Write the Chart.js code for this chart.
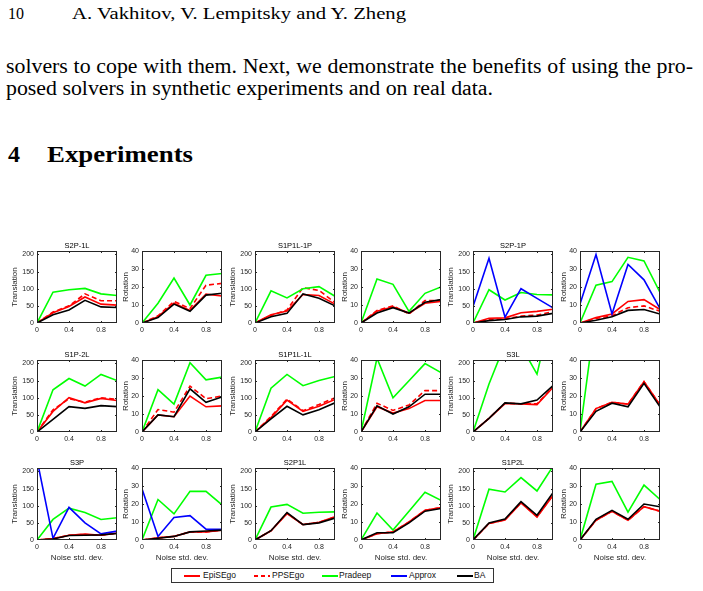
<!DOCTYPE html>
<html><head><meta charset="utf-8">
<script src="https://cdn.jsdelivr.net/npm/chart.js@4.4.1/dist/chart.umd.min.js"></script>
<style>
html,body{margin:0;padding:0;background:#fff}
body{width:703px;height:591px;position:relative;overflow:hidden}
.t{position:absolute;font-family:"Liberation Serif","DejaVu Serif",serif;color:#000;white-space:nowrap;transform-origin:0 0;line-height:1}
canvas{position:absolute}
#legend{position:absolute;left:171px;top:568px;width:321px;height:13px;border:1px solid #333;background:#fff;font-family:"Liberation Sans",Arial,sans-serif;font-size:8.5px;color:#111}
#legend .ln{position:absolute;top:6px;width:16px;height:1.5px}
#legend .lb{position:absolute;top:1px;line-height:11px}
</style></head>
<body>
<div class="t" id="pgnum" style="left:8px;top:6px;font-size:16px">10</div>
<div class="t" id="runhead" style="left:72px;top:6px;font-size:16px" data-w="334">A. Vakhitov, V. Lempitsky and Y. Zheng</div>
<div class="t" id="p1" style="left:6px;top:56px;font-size:20px">solvers to cope with them. Next, we demonstrate the benefits of using the pro-</div>
<div class="t" id="p2" style="left:6px;top:78px;font-size:20px">posed solvers in synthetic experiments and on real data.</div>
<div class="t" style="left:8px;top:142px;font-size:24px;font-weight:bold">4</div>
<div class="t" style="left:47px;top:142px;font-size:24px;font-weight:bold" data-w="146">Experiments</div>
<div id="legend"></div>
<script>
// ---------- data ----------
const xValues = [0, 0.2, 0.4, 0.6, 0.8, 1.0];
const xTicks = [0, 0.4, 0.8];
const translationTicks = [0, 50, 100, 150, 200];
const rotationTicks = [0, 10, 20, 30, 40];
const seriesNames = ['EpiSEgo', 'PPSEgo', 'Pradeep', 'Approx', 'BA'];
const seriesColors = ['#ff0000', '#ff0000', '#00ff00', '#0000ff', '#000000'];
const chartTitles = ['S2P-1L', 'S1P1L-1P', 'S2P-1P', 'S1P-2L', 'S1P1L-1L', 'S3L', 'S3P', 'S2P1L', 'S1P2L'];

// each: [EpiSEgo, PPSEgo, Pradeep, Approx, BA]   (null = not shown)
const S2P_1L_trans = [[0,30,48,76,55,52],[0,32,50,85,65,65],[0,90,97,101,85,80],null,[0,24,38,66,47,45]];
const S2P_1L_rot   = [[0,3.5,11,7,16,15],[0,4,12,8,21,22],[0,11,25,10,26.5,27.5],null,[0,3,10.5,6.5,15.5,16.5]];
const S1P1L_1P_trans = [[0,24,35,83,80,55],[0,22,38,103,95,60],[0,94,73,100,106,78],null,[0,18,28,85,72,50]];
const S1P1L_1P_rot   = [[0,6.5,9,5.5,11,12],[0,7,9.5,5,12.5,12.5],[0,24.5,21.5,6.5,16.5,20],null,[0,5.5,8.5,5.5,11.5,13]];
const S2P_1P_trans = [[0,14,15,30,34,40],[0,10,12,20,23,33],[0,97,67,89,83,82],[48,189,17,100,72,44],[0,7,10,18,20,28]];
const S2P_1P_rot   = [[0,3,5,12,13,7.5],[0,2.5,4,8.5,9.5,6.5],[0,21,23,36.5,34.5,17],[10.5,38,5,32.5,24,8],[0,1.5,3.5,7,7.5,5]];
const S1P_2L_trans = [[0,60,100,85,98,92],[0,65,97,87,100,95],[0,123,156,134,168,150],null,[0,37,74,69,77,74]];
const S1P_2L_rot   = [[0,9.5,8.5,20,14,14.5],[0,12.5,11,25.5,18.5,20],[0,23.5,15.5,38.5,29,30.5],null,[0,9.5,8.5,24,16.5,19.5]];
const S1P1L_1L_trans = [[0,42,93,60,75,95],[0,45,96,62,80,100],[0,128,168,135,150,162],null,[0,38,75,50,65,85]];
const S1P1L_1L_rot   = [[0,14,10.5,13,17.5,17.5],[0,16,12,15,23,23],[0,41,19,28.5,38,33],null,[0,14.5,10,14,21,21]];
const S3L_trans = [[0,40,83,82,80,130],[0,40,84,82,82,131],[0,140,257,251,169,370],null,[0,40,85,82,93,135]];
const S3L_rot   = [[0,13,16.5,15.5,28,15],[0,13,16.5,15.5,28,15],[0,67,70,65,72,70],null,[0,11.5,16,14,27,14]];
const S3P_trans = [[0,4,14,17,14,20],[0,4,14,16,14,20],[0,60,93,80,60,65],[235,5,95,50,18,26],[0,3,13,14,15,19]];
const S3P_rot   = [[0,1.2,2,4.5,4.5,5.5],[0,1.2,2,4.5,4.5,5.5],[0,22.5,14.5,27,27,19.5],[28.5,2,12.5,13.5,6,6],[0,1,2,4.5,5,5.5]];
const S2P1L_trans = [[0,27,77,45,52,68],[0,27,78,45,51,67],[0,96,104,78,81,82],null,[0,27,80,45,50,64]];
const S2P1L_rot   = [[0,3.5,4.5,10,16.5,18],[0,3.5,4.5,10,16.5,18],[0,15,5.5,16,26.5,22],null,[0,4,4,9.5,16,17.5]];
const S1P2L_trans = [[0,48,58,108,67,130],[0,48,59,109,68,131],[0,148,140,182,143,215],null,[0,50,61,112,72,138]];
const S1P2L_rot   = [[0,11,16,11,18.5,16],[0,11,16,11,18.5,16],[0,31,32.5,15.5,30.5,22.5],null,[0,11.5,16.5,11.5,20,18.5]];

const transData = [S2P_1L_trans, S1P1L_1P_trans, S2P_1P_trans, S1P_2L_trans, S1P1L_1L_trans, S3L_trans, S3P_trans, S2P1L_trans, S1P2L_trans];
const rotData   = [S2P_1L_rot, S1P1L_1P_rot, S2P_1P_rot, S1P_2L_rot, S1P1L_1L_rot, S3L_rot, S3P_rot, S2P1L_rot, S1P2L_rot];

// ---------- layout ----------
const boxLefts = [37, 142, 255, 361, 473, 580];
const boxTops = [251, 360, 468];
const BOX_W = 80, BOX_H = 72, L = 30, T = 14, R = 30;
const SANS = '"Liberation Sans", Arial, sans-serif';
const AXIS_COLOR = '#262626';

const boxPlugin = {
  id: 'matlabBox',
  afterDraw(chart) {
    const {ctx, chartArea: a, scales: {x, y}} = chart;
    ctx.save();
    ctx.strokeStyle = AXIS_COLOR;
    ctx.lineWidth = 1;
    ctx.strokeRect(Math.round(a.left) + 0.5, Math.round(a.top) + 0.5, Math.round(a.right - a.left) - 1, Math.round(a.bottom - a.top) - 1);
    ctx.beginPath();
    const tl = 2;
    x.ticks.forEach(t => {
      const px = Math.round(x.getPixelForValue(t.value)) + 0.5;
      if (px <= a.left + 1 || px >= a.right - 1) return;
      ctx.moveTo(px, a.bottom); ctx.lineTo(px, a.bottom - tl);
      ctx.moveTo(px, a.top); ctx.lineTo(px, a.top + tl);
    });
    y.ticks.forEach(t => {
      const py = Math.round(y.getPixelForValue(t.value)) + 0.5;
      if (py <= a.top + 1 || py >= a.bottom - 1) return;
      ctx.moveTo(a.left, py); ctx.lineTo(a.left + tl, py);
      ctx.moveTo(a.right, py); ctx.lineTo(a.right - tl, py);
    });
    ctx.stroke();
    ctx.restore();
  }
};

function makeChart(boxLeft, boxTop, title, yTitle, yMax, yTicks, series, isBottom) {
  const B = isBottom ? 26 : 14;
  const c = document.createElement('canvas');
  c.width = L + BOX_W + R;
  c.height = T + BOX_H + B;
  c.style.left = (boxLeft - L) + 'px';
  c.style.top = (boxTop - T) + 'px';
  document.body.appendChild(c);
  const datasets = [];
  series.forEach((vals, i) => {
    if (!vals) return;
    datasets.push({
      label: seriesNames[i],
      data: xValues.map((xv, j) => ({x: xv, y: vals[j]})),
      borderColor: seriesColors[i],
      borderWidth: 1.6,
      borderDash: i === 1 ? [5, 3] : [],
      pointRadius: 0,
      tension: 0,
      fill: false,
      order: 5 - i
    });
  });
  const isTrans = yTitle === 'Translation';
  new Chart(c, {
    type: 'line',
    data: {datasets},
    options: {
      responsive: false, animation: false, devicePixelRatio: 1,
      layout: {padding: 0, autoPadding: false},
      plugins: {
        legend: {display: false}, tooltip: {enabled: false},
        title: {display: true, text: title, color: '#000', align: 'center', font: {family: SANS, size: 7.5, weight: 'normal', lineHeight: 1.2}, padding: {top: 4, bottom: 1}}
      },
      scales: {
        x: {
          type: 'linear', min: 0, max: 1,
          afterBuildTicks: s => { s.ticks = xTicks.map(v => ({value: v})); },
          afterFit: s => { s.height = B; },
          grid: {display: false, drawTicks: false},
          border: {display: false},
          ticks: {padding: 3, maxRotation: 0, autoSkip: false, color: AXIS_COLOR, font: {family: SANS, size: 7}, callback: v => String(v)},
          title: {display: isBottom, text: 'Noise std. dev.', color: AXIS_COLOR, font: {family: SANS, size: 8}, padding: {top: 0, bottom: 3.2}}
        },
        y: {
          type: 'linear', position: 'left', min: 0, max: yMax,
          afterBuildTicks: s => { s.ticks = yTicks.map(v => ({value: v})); },
          afterFit: s => { s.width = L; },
          grid: {display: false, drawTicks: false},
          border: {display: false},
          ticks: {padding: 3, color: AXIS_COLOR, font: {family: SANS, size: 7}, callback: v => String(v)},
          title: {display: true, text: yTitle, color: AXIS_COLOR, font: {family: SANS, size: 8}, padding: {top: isTrans ? 2.7 : 8.7, bottom: 0}}
        },
        yRightSpace: {
          type: 'linear', position: 'right', min: 0, max: yMax,
          afterFit: s => { s.width = R; },
          grid: {display: false, drawTicks: false},
          border: {display: false},
          ticks: {display: false}
        }
      }
    },
    plugins: [boxPlugin]
  });
}

for (let k = 0; k < 9; k++) {
  const row = Math.floor(k / 3), pair = k % 3;
  const bottom = row === 2;
  makeChart(boxLefts[2 * pair], boxTops[row], chartTitles[k], 'Translation', 210, translationTicks, transData[k], bottom);
  makeChart(boxLefts[2 * pair + 1], boxTops[row], '', 'Rotation', 40, rotationTicks, rotData[k], bottom);
}

// ---------- legend ----------
const legendPos = [[12, 31], [82, 100], [150, 167], [219, 237], [285, 302]];
const lg = document.getElementById('legend');
seriesNames.forEach((n, i) => {
  const ln = document.createElement('div');
  ln.className = 'ln';
  ln.style.left = legendPos[i][0] + 'px';
  if (i === 1) {
    ln.style.background = 'repeating-linear-gradient(to right,' + seriesColors[i] + ' 0 4px, transparent 4px 7px)';
  } else {
    ln.style.background = seriesColors[i];
  }
  lg.appendChild(ln);
  const lb = document.createElement('div');
  lb.className = 'lb';
  lb.style.left = legendPos[i][1] + 'px';
  lb.textContent = n;
  lg.appendChild(lb);
});

// ---------- fit page text widths ----------
document.querySelectorAll('[data-w]').forEach(el => {
  const w = el.getBoundingClientRect().width;
  el.style.transform = 'scaleX(' + (el.dataset.w / w) + ')';
});
(function () {
  const p1 = document.getElementById('p1'), p2 = document.getElementById('p2');
  const s = 487 / p2.getBoundingClientRect().width;
  p2.style.transform = 'scaleX(' + s + ')';
  const w1 = p1.getBoundingClientRect().width;
  const n = (p1.textContent.match(/ /g) || []).length;
  p1.style.wordSpacing = ((687 / s - w1) / n) + 'px';
  p1.style.transform = 'scaleX(' + s + ')';
})();
</script>
</body></html>
